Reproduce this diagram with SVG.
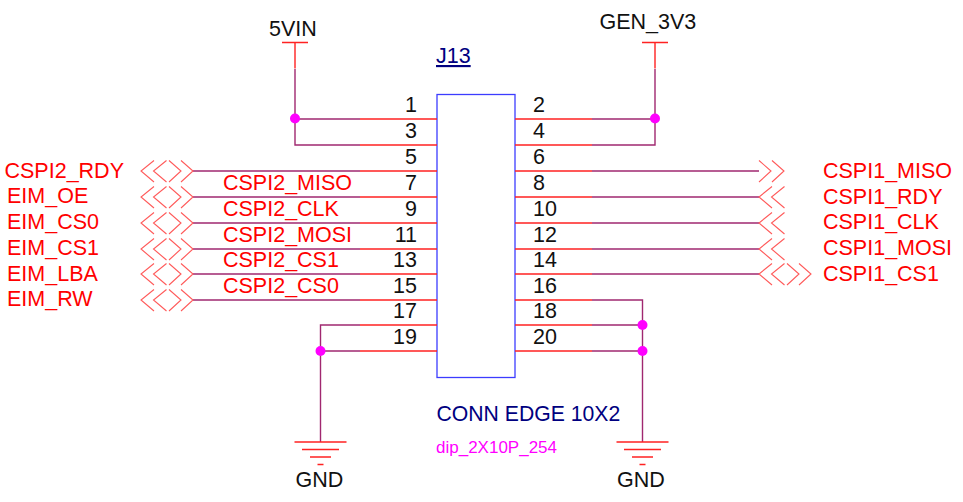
<svg xmlns="http://www.w3.org/2000/svg" width="963" height="502" viewBox="0 0 963 502">
<style>
text{font-family:"Liberation Sans",Arial,sans-serif;font-size:21.500px}
.r{fill:#f00}.k{fill:#111}.pin text{fill:#111;text-anchor:end}
.pinr text{text-anchor:start}
.w{fill:none;stroke:#a02870;stroke-width:1.400}
.p{fill:none;stroke:#f22;stroke-width:1.400}
.o{fill:none;stroke:#ff5a5a;stroke-width:1.100}
.j{fill:#f0f}
</style>
<defs>
<path id="lt" d="M13-10.500L0 0L13 11"/>
<path id="gt" d="M0-10.500L12 0L0 11"/>
<g id="bi"><use href="#lt" class="o" x="0"/><use href="#lt" class="o" x="12.500"/><use href="#gt" class="o" x="28"/><use href="#gt" class="o" x="40"/></g>
<g id="in"><use href="#lt" class="o" x="0"/><use href="#lt" class="o" x="12.500"/></g>
<g id="out"><use href="#gt" class="o" x="0"/><use href="#gt" class="o" x="13"/></g>
<g id="gnd"><path class="p" d="M-26 0H26M-18.500 7.500H18.500M-10.500 15H10.500M-3 22.500H3"/></g>
<g id="pwr"><path class="p" d="M-13 0H13M0 0V26"/></g>
</defs>
<g id="J13">
<rect x="437" y="94.500" width="78" height="283" fill="none" stroke="#3c3cff" stroke-width="1.300"/>
<text x="436" y="63" fill="#000080" text-decoration="underline">J13</text>
<text x="436.500" y="421" fill="#000080" style="font-size:21.200px">CONN EDGE 10X2</text>
<text x="436" y="453" fill="#f0f" style="font-size:17px">dip_2X10P_254</text>
</g>
<g id="connectors">
<path class="w" d="M295 69V145H360M295 119H360M193 171H360M193 197H360M193 223H360M193 249H360M193 274H360M193 300H360"/>
<path class="w" d="M655 69V145H592M655 119H592M592 171H759M592 197H759M592 223H759M592 249H759M592 274H759M592 300H642.500V442M592 325H642.500M592 351H642.500"/>
<path class="w" d="M360 325H320.500V442M360 351H320.500"/>
<path class="p" d="M360 119H437M360 145H437M360 171H437M360 197H437M360 223H437M360 249H437M360 274H437M360 300H437M360 325H437M360 351H437"/>
<path class="p" d="M515 119H592M515 145H592M515 171H592M515 197H592M515 223H592M515 249H592M515 274H592M515 300H592M515 325H592M515 351H592"/>
</g>
<g id="junctions">
<circle class="j" cx="295" cy="118.500" r="5"/><circle class="j" cx="655" cy="118.500" r="5"/>
<circle class="j" cx="642.500" cy="325" r="5"/><circle class="j" cx="642.500" cy="351" r="5"/>
<circle class="j" cx="320.500" cy="351" r="5"/>
</g>
<g id="pins-left" class="pin">
<text x="417" y="112">1</text><text x="417" y="138">3</text><text x="417" y="164">5</text><text x="417" y="190">7</text><text x="417" y="216">9</text><text x="417" y="242">11</text><text x="417" y="267">13</text><text x="417" y="293">15</text><text x="417" y="318">17</text><text x="417" y="344">19</text>
</g>
<g id="pins-right" class="pin pinr">
<text x="533" y="112">2</text><text x="533" y="138">4</text><text x="533" y="164">6</text><text x="533" y="190">8</text><text x="533" y="216">10</text><text x="533" y="242">12</text><text x="533" y="267">14</text><text x="533" y="293">16</text><text x="533" y="318">18</text><text x="533" y="344">20</text>
</g>
<g id="net-labels-left" class="r">
<text x="223" y="190">CSPI2_MISO</text><text x="223" y="216">CSPI2_CLK</text><text x="223" y="242">CSPI2_MOSI</text><text x="223" y="267">CSPI2_CS1</text><text x="223" y="293">CSPI2_CS0</text>
</g>
<g id="ports-left">
<use href="#bi" x="141" y="171"/><use href="#bi" x="141" y="197"/><use href="#bi" x="141" y="223"/><use href="#bi" x="141" y="249"/><use href="#bi" x="141" y="274"/><use href="#bi" x="141" y="300"/>
<g class="r"><text x="4.500" y="178">CSPI2_RDY</text><text x="7" y="203">EIM_OE</text><text x="7" y="229">EIM_CS0</text><text x="7" y="255">EIM_CS1</text><text x="7" y="281">EIM_LBA</text><text x="7" y="306">EIM_RW</text></g>
</g>
<g id="ports-right">
<use href="#out" x="759" y="171"/><use href="#in" x="759" y="197"/><use href="#in" x="759" y="223"/><use href="#in" x="759" y="249"/><use href="#bi" x="759" y="274"/>
<g class="r"><text x="823" y="178">CSPI1_MISO</text><text x="823" y="204">CSPI1_RDY</text><text x="823" y="229">CSPI1_CLK</text><text x="823" y="255">CSPI1_MOSI</text><text x="823" y="281">CSPI1_CS1</text></g>
</g>
<g id="power-5VIN"><use href="#pwr" x="295" y="42.500"/><text class="k" x="269" y="36">5VIN</text></g>
<g id="power-GEN_3V3"><use href="#pwr" x="655" y="42.500"/><text class="k" x="599.500" y="29">GEN_3V3</text></g>
<g id="gnd-left"><use href="#gnd" x="320.500" y="442"/><text class="k" x="295.500" y="487">GND</text></g>
<g id="gnd-right"><use href="#gnd" x="642.500" y="442"/><text class="k" x="617" y="487">GND</text></g>
</svg>
